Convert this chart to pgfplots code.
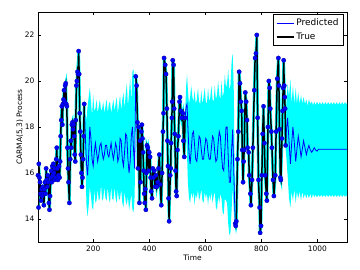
\documentclass[border=0pt]{standalone}
\usepackage{fontspec}
\setmainfont{DejaVu Sans}
\usepackage{pgfplots}
\pgfplotsset{compat=1.18}
\usepackage{pgfplotstable}
\usepgfplotslibrary{fillbetween}
\definecolor{aqua}{RGB}{0,255,255}
\definecolor{pblue}{RGB}{0,0,255}

\pgfplotstableread{
t y
3 15.9
5 14.5
6 16.4
8 15.8
10 15.6
12 15.1
14 14.8
16 15.3
18 15.0
20 15.4
22 15.1
24 14.6
26 15.3
28 15.6
30 15.1
32 16.2
34 15.7
36 15.4
38 15.9
40 15.6
42 14.7
44 14.4
46 15.0
48 15.8
50 16.1
52 15.6
54 16.3
56 15.9
58 16.4
60 16.0
62 15.7
64 16.2
66 15.8
68 16.6
70 17.1
72 16.2
74 15.7
76 15.9
78 16.3
80 15.8
82 16.5
84 17.6
86 18.3
88 18.9
90 18.1
92 19.0
94 19.2
96 19.6
98 19.1
100 19.8
102 19.9
104 19.0
106 18.9
108 17.1
110 16.2
112 15.6
115 14.7
118 16.6
120 17.4
122 17.1
124 18.1
126 18.2
128 17.9
130 18.1
132 17.6
134 16.8
136 16.5
138 18.3
140 19.8
142 20.0
144 20.4
146 20.3
148 21.3
150 20.3
152 18.6
154 17.8
156 16.8
158 16.0
160 15.4
162 15.8
164 16.6
166 17.6
168 19.0
}\obsA

\pgfplotstableread{
t y
352 20.2
355 19.8
358 18.2
360 16.2
362 18.0
365 14.7
367 17.4
369 15.6
372 17.8
374 18.1
376 17.5
378 16.9
380 16.1
382 15.1
384 14.7
386 15.3
388 14.4
390 16.0
392 17.2
395 17.1
398 16.1
400 16.9
403 16.7
405 15.8
407 15.2
410 14.9
413 16.2
415 15.8
418 16.1
421 15.4
424 15.9
427 15.4
430 15.6
433 16.2
436 16.8
439 15.5
443 14.6
446 16.0
449 17.8
451 18.6
453 21.0
457 20.7
460 20.3
463 18.8
465 17.4
467 16.3
469 14.9
471 13.9
475 15.9
477 16.2
478 17.3
481 18.4
482 19.1
484 20.9
487 20.7
489 18.8
491 17.7
494 16.1
496 15.2
498 15.0
501 17.0
504 17.6
508 19.1
510 19.3
513 18.7
516 18.4
520 18.6
522 17.4
525 16.7
528 18.4
}\obsB

\pgfplotstableread{
t y
707 13.8
709 13.7
711 13.9
715 16.6
718 17.8
721 20.4
724 19.9
727 19.1
730 18.7
732 17.0
735 15.6
737 16.5
739 17.0
743 19.5
746 19.1
749 18.3
751 17.1
755 16.9
757 15.9
761 15.1
763 14.6
767 15.7
770 17.1
775 19.6
778 21.0
781 21.2
784 22.0
787 18.4
790 15.7
794 14.5
796 13.4
799 13.7
802 15.9
805 17.7
808 18.9
811 17.3
814 15.9
818 15.1
820 14.8
824 18.0
827 20.0
830 19.7
832 18.8
836 17.8
838 17.1
842 15.7
845 15.0
850 15.9
853 17.8
857 20.1
861 21.0
863 19.8
865 17.9
868 15.8
870 15.7
874 17.5
876 18.7
878 19.7
880 20.9
882 19.8
884 19.3
885 18.8
887 17.2
}\obsC

\pgfplotstableread{
t p hi lo
168 19.0 19.2 18.8
172 17.6 18.6 16.6
176 16.4 18.3 14.6
180 15.9 18.9 14.1
184 16.8 19.3 14.6
188 18.0 19.7 15.4
192 17.5 19.1 15.0
196 16.6 18.5 14.5
200 16.3 19.4 14.4
204 16.9 18.7 15.3
208 17.3 18.8 14.7
212 16.9 19.2 14.8
216 16.5 18.6 15.3
220 16.8 18.9 14.8
224 17.2 19.2 14.9
228 17.3 18.7 15.5
232 16.9 18.8 14.8
236 16.6 19.1 14.9
240 16.8 18.6 15.4
244 17.2 18.9 14.9
248 17.2 19.2 14.8
252 16.8 18.6 15.4
256 16.7 19.0 14.9
260 17.0 19.1 14.7
264 17.3 18.6 15.4
268 16.9 18.9 14.9
272 16.6 19.2 14.8
276 16.9 18.7 15.4
280 17.3 19.0 14.9
284 17.1 19.3 14.7
288 16.5 18.6 15.3
292 16.7 19.0 14.8
296 17.5 19.4 14.9
300 17.4 18.7 15.3
304 16.6 19.2 14.7
308 16.3 19.5 14.5
312 16.9 18.8 15.2
316 17.7 19.4 14.8
320 17.6 19.9 14.6
324 16.6 18.9 15.0
328 16.0 19.5 14.4
332 16.5 20.1 14.7
336 17.6 19.1 15.1
340 18.0 20.4 14.4
344 17.0 20.5 14.3
348 16.2 19.4 15.0
352 20.2 20.4 20.0
}\gapA

\pgfplotstableread{
t p hi lo
528 18.4 18.6 18.2
532 18.9 19.8 17.6
535 19.0 20.3 16.8
538 18.0 19.6 15.6
542 16.9 19.0 14.9
546 16.4 19.3 14.7
550 17.0 19.8 15.2
554 17.7 19.3 14.9
558 17.8 19.1 15.2
562 17.2 19.6 14.6
566 16.6 19.0 15.1
570 16.5 19.2 14.9
574 17.0 19.7 15.3
578 17.6 19.1 14.8
582 17.5 19.0 15.0
586 17.0 19.6 15.3
590 16.6 19.0 14.8
594 16.6 19.3 14.7
598 17.1 19.7 15.2
602 17.5 19.1 14.9
606 17.4 19.0 15.1
610 16.9 19.7 14.6
614 16.6 19.1 15.1
618 16.6 19.3 14.8
622 17.1 19.8 15.2
626 17.6 19.2 14.7
630 17.5 19.1 15.0
634 16.9 19.8 15.2
638 16.5 19.2 14.5
642 16.6 19.4 14.4
646 17.3 20.0 15.0
650 17.8 19.4 14.7
654 17.6 19.2 15.1
658 16.8 20.0 14.9
662 16.2 19.3 14.3
666 16.1 19.5 14.2
670 17.0 20.3 14.9
674 18.0 19.7 14.8
678 18.0 19.9 14.7
682 16.7 20.5 13.8
686 15.6 19.6 13.3
690 15.6 19.8 13.4
694 17.0 20.8 14.4
698 17.9 21.2 15.4
702 16.0 19.5 14.3
707 13.8 14.0 13.6
}\gapB

\pgfplotstableread{
t p hi lo
887 17.2 17.4 17.0
890 17.9 19.0 16.6
894 18.4 19.9 15.9
899 17.4 19.3 14.9
904 16.4 20.1 14.5
908 17.2 19.0 15.2
913 18.0 19.8 14.8
918 17.3 19.0 15.3
923 16.5 19.7 14.7
927 17.0 19.0 15.2
932 17.6 19.5 14.9
937 17.2 19.0 15.2
942 16.7 19.4 14.8
946 17.0 19.0 15.2
951 17.4 19.3 14.9
956 17.1 19.0 15.1
961 16.8 19.2 14.9
965 17.0 18.9 15.1
970 17.2 19.2 14.9
975 17.0 19.0 15.1
980 16.9 19.1 14.9
985 17.0 18.95 15.1
989 17.1 19.1 14.95
994 17.0 18.95 15.05
999 16.95 19.1 14.95
1004 17.03 18.97 15.05
1009 17.03 19.08 14.96
1014 17.03 18.97 15.05
1019 17.03 19.08 14.96
1024 17.03 18.97 15.05
1029 17.03 19.08 14.96
1034 17.03 18.97 15.05
1039 17.03 19.08 14.96
1044 17.03 18.97 15.05
1049 17.03 19.08 14.96
1054 17.03 18.97 15.05
1059 17.03 19.08 14.96
1064 17.03 18.97 15.05
1069 17.03 19.08 14.96
1074 17.03 18.97 15.05
1079 17.03 19.08 14.96
1084 17.03 18.97 15.05
1089 17.03 19.08 14.96
1094 17.03 18.97 15.05
1099 17.03 19.08 14.96
1104 17.03 18.97 15.05
1106 17.03 19.05 14.97
}\gapC

\begin{document}
\begin{tikzpicture}
\begin{axis}[
  at={(0,0)}, anchor=south west,
  scale only axis, width=309bp, height=230bp,
  xmin=3, xmax=1106, ymin=13, ymax=23,
  xtick={200,400,600,800,1000}, ytick={14,16,18,20,22},
  tick align=inside, major tick length=3bp,
  tick style={black, line width=0.5bp},
  axis line style={line width=0.6bp},
  ticklabel style={font=\fontsize{7.5}{8}\selectfont},
  /pgf/number format/assume math mode=true,
  /pgf/number format/1000 sep={},
  xlabel={Time}, ylabel={CARMA(5,3) Process},
  label style={font=\fontsize{7.5}{8}\selectfont},
  xlabel shift=-3bp, ylabel shift=-5bp,
  legend style={at={(rel axis cs:0.988,0.99)}, anchor=north east,
    font=\fontsize{9}{10}\selectfont, draw=black, line width=0.6bp,
    inner sep=2.5bp, row sep=1.5bp},
  legend cell align=left,
]
% bands
\addplot[draw=none, name path=ha, forget plot] table[x=t,y=hi]{\gapA};
\addplot[draw=none, name path=la, forget plot] table[x=t,y=lo]{\gapA};
\addplot[aqua, forget plot] fill between[of=ha and la];
\addplot[draw=none, name path=hb, forget plot] table[x=t,y=hi]{\gapB};
\addplot[draw=none, name path=lb, forget plot] table[x=t,y=lo]{\gapB};
\addplot[aqua, forget plot] fill between[of=hb and lb];
\addplot[draw=none, name path=hc, forget plot] table[x=t,y=hi]{\gapC};
\addplot[draw=none, name path=lc, forget plot] table[x=t,y=lo]{\gapC};
\addplot[aqua, forget plot] fill between[of=hc and lc];
\addplot[aqua, line width=2.8bp, forget plot] table[x=t,y=y]{\obsA};
\addplot[aqua, line width=2.8bp, forget plot] table[x=t,y=y]{\obsB};
\addplot[aqua, line width=2.8bp, forget plot] table[x=t,y=y]{\obsC};
% predicted
\addplot[pblue, line width=0.8bp] table[x=t,y=p]{\gapA};
\addlegendentry{Predicted}
\addplot[pblue, line width=0.8bp, forget plot] table[x=t,y=p]{\gapB};
\addplot[pblue, line width=0.8bp, forget plot] table[x=t,y=p]{\gapC};
% true
\addplot[black, line width=1.5bp] table[x=t,y=y]{\obsA};
\addlegendentry{True}
\addplot[black, line width=1.5bp, forget plot] table[x=t,y=y]{\obsB};
\addplot[black, line width=1.5bp, forget plot] table[x=t,y=y]{\obsC};
% observations
\addplot[only marks, mark=*, mark size=2.2bp, mark options={fill=pblue, draw=pblue!60!black, line width=0.25bp}, forget plot] table[x=t,y=y]{\obsA};
\addplot[only marks, mark=*, mark size=2.2bp, mark options={fill=pblue, draw=pblue!60!black, line width=0.25bp}, forget plot] table[x=t,y=y]{\obsB};
\addplot[only marks, mark=*, mark size=2.2bp, mark options={fill=pblue, draw=pblue!60!black, line width=0.25bp}, forget plot] table[x=t,y=y]{\obsC};
\end{axis}
\path (-38bp,-28bp) rectangle (322bp,242bp);
\end{tikzpicture}
\end{document}
